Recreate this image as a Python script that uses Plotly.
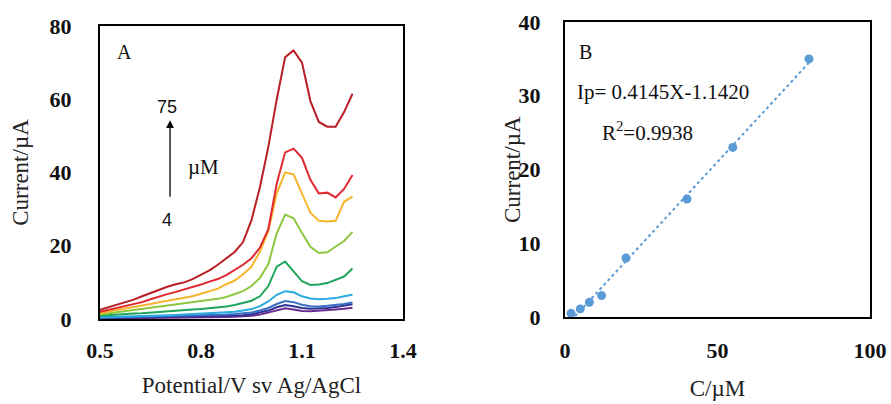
import numpy as np
import plotly.graph_objects as go

# ---------------- Panel A data (DPV curves) ----------------
potential = [0.500, 0.525, 0.550, 0.575, 0.600, 0.625, 0.650, 0.675, 0.700, 0.725,
             0.750, 0.775, 0.800, 0.825, 0.850, 0.875, 0.900, 0.925, 0.950, 0.975,
             1.000, 1.025, 1.050, 1.075, 1.100, 1.125, 1.150, 1.175, 1.200, 1.225, 1.250]

curve_purple = [0.1, 0.12, 0.15, 0.18, 0.2, 0.22, 0.25, 0.28, 0.3, 0.33, 0.36, 0.4, 0.43, 0.47, 0.5, 0.55,
                0.62, 0.7, 0.9, 1.2, 1.7, 2.4, 2.9, 2.6, 2.2, 2.1, 2.2, 2.4, 2.6, 2.8, 3.1]
curve_navy = [0.2, 0.25, 0.3, 0.3, 0.35, 0.4, 0.45, 0.5, 0.55, 0.6, 0.6, 0.65, 0.7, 0.75, 0.8, 0.85,
              0.95, 1.05, 1.3, 1.7, 2.3, 3.2, 3.8, 3.5, 3.0, 2.8, 2.8, 3.0, 3.3, 3.6, 4.0]
curve_blue = [0.35, 0.4, 0.45, 0.5, 0.55, 0.6, 0.65, 0.7, 0.75, 0.8, 0.85, 0.9, 1.0, 1.05, 1.1, 1.2,
              1.35, 1.5, 1.8, 2.3, 3.0, 4.1, 4.9, 4.6, 3.9, 3.5, 3.4, 3.6, 3.8, 4.1, 4.5]
curve_lightblue = [0.5, 0.55, 0.6, 0.7, 0.75, 0.8, 0.9, 1.0, 1.05, 1.1, 1.2, 1.3, 1.4, 1.5, 1.6, 1.8,
                   2.0, 2.3, 2.7, 3.5, 4.8, 6.6, 7.6, 7.3, 6.2, 5.6, 5.4, 5.5, 5.7, 6.2, 6.6]
curve_green = [0.9, 1.0, 1.2, 1.3, 1.5, 1.6, 1.8, 1.9, 2.0, 2.2, 2.4, 2.6, 2.7, 2.9, 3.2, 3.4,
               3.8, 4.3, 5.0, 6.2, 9.0, 14.3, 15.7, 13.0, 10.3, 9.3, 9.4, 9.8, 10.6, 11.6, 13.8]
curve_yellowgreen = [1.2, 1.5, 1.8, 2.1, 2.4, 2.7, 3.0, 3.3, 3.6, 3.9, 4.1, 4.4, 4.7, 5.1, 5.5, 6.0,
                     6.7, 7.6, 9.0, 11.2, 15.0, 23.4, 28.5, 27.5, 23.5, 19.7, 18.0, 18.2, 19.8, 21.3, 23.8]
curve_gold = [1.6, 2.0, 2.4, 2.8, 3.2, 3.6, 4.1, 4.6, 5.0, 5.4, 5.8, 6.2, 6.9, 7.6, 8.3, 9.5,
              10.5, 12.2, 14.3, 18.4, 24.0, 34.3, 40.0, 39.5, 34.0, 29.0, 26.8, 26.6, 26.8, 32.0, 33.4]
curve_red = [2.0, 2.5, 3.0, 3.5, 4.0, 4.6, 5.4, 6.2, 6.8, 7.4, 8.0, 8.6, 9.4, 10.2, 10.9, 12.0,
             13.3, 14.8, 16.6, 19.5, 24.5, 37.0, 45.5, 46.5, 44.0, 38.0, 34.3, 34.5, 33.2, 35.5, 39.3]
curve_darkred = [2.5, 3.2, 3.9, 4.5, 5.3, 6.2, 7.1, 8.0, 8.8, 9.5, 10.0, 10.9, 12.0, 13.3, 14.8, 16.6,
                 18.3, 21.0, 27.0, 36.0, 47.0, 60.0, 71.5, 73.3, 70.0, 59.5, 53.8, 52.5, 52.5, 56.5, 61.5]

curves = [curve_purple, curve_navy, curve_blue, curve_lightblue, curve_green,
          curve_yellowgreen, curve_gold, curve_red, curve_darkred]
curve_colors = ["#6A2C91", "#2E3192", "#3B6FC4", "#29ABE2", "#1FA55B",
                "#8CC63F", "#F7B52C", "#E0282E", "#B81E24"]

# ---------------- Panel B data (calibration) ----------------
conc = [2, 5, 8, 12, 20, 40, 55, 80]
peak_current = [0.5, 1.1, 2.0, 2.9, 8.0, 16.0, 23.0, 35.0]

A_xticks = [0.5, 0.8, 1.1, 1.4]
A_yticks = [0, 20, 40, 60, 80]
B_xticks = [0, 50, 100]
B_yticks = [0, 10, 20, 30, 40]

SERIF = "Liberation Serif"
SANS = "Liberation Sans"
W, H = 891, 404

fig = go.Figure()

for ys, col in zip(curves, curve_colors):
    fig.add_trace(go.Scatter(x=potential, y=ys, mode="lines",
                             line=dict(color=col, width=2), xaxis="x", yaxis="y",
                             showlegend=False, hoverinfo="skip"))

slope, intercept = np.polyfit(conc, peak_current, 1)
fit_x = [min(conc), max(conc)]
fit_y = [slope * v + intercept for v in fit_x]
fig.add_trace(go.Scatter(x=fit_x, y=fit_y, mode="lines",
                         line=dict(color="#5B9BD5", width=2, dash="dot"),
                         xaxis="x2", yaxis="y2", showlegend=False))
fig.add_trace(go.Scatter(x=conc, y=peak_current, mode="markers",
                         marker=dict(color="#5B9BD5", size=9),
                         xaxis="x2", yaxis="y2", showlegend=False))

tickfont = dict(family=SERIF, size=22, color="#111111", weight="bold")
titlefont = dict(family=SERIF, size=23, color="#222222")

def ax(domain, rng, tickvals, anchor, title, standoff_lab, standoff_title):
    d = dict(domain=domain, range=rng, tickvals=tickvals, anchor=anchor,
             showline=True, linecolor="black", linewidth=2, mirror=True,
             showgrid=False, zeroline=False, ticks="", automargin=False,
             tickfont=tickfont, ticklabelstandoff=standoff_lab)
    if title:
        d["title"] = dict(text=title, font=titlefont, standoff=standoff_title)
    return d

fig.update_layout(
    width=W, height=H, autosize=False,
    margin=dict(l=0, r=0, t=0, b=0),
    template="none",
    paper_bgcolor="white", plot_bgcolor="white",
    xaxis=ax([100 / W, 403 / W], [0.5, 1.4], A_xticks, "y", "Potential/V sv Ag/AgCl", 11, 14),
    yaxis=ax([1 - 319 / H, 1 - 26 / H], [0, 80], A_yticks, "x", "Current/µA", 22, 15),
    xaxis2=ax([565 / W, 870 / W], [0, 100], B_xticks, "y2", "C/µM", 13, 17),
    yaxis2=ax([1 - 317 / H, 1 - 22 / H], [0, 40], B_yticks, "x2", None, 18, 0),
)
fig.layout.xaxis.ticktext = ["0.5", "0.8", "1.1", "1.4"]

annots = [
    dict(x=513 / W, y=1 - 170 / H, xref="paper", yref="paper", text="Current/µA",
         textangle=-90, showarrow=False, font=titlefont),
    dict(x=0.574, y=72.9, xref="x", yref="y", text="A", showarrow=False,
         font=dict(family=SERIF, size=20, color="#111")),
    dict(x=0.70, y=57.9, xref="x", yref="y", text="75", showarrow=False,
         font=dict(family=SANS, size=18, color="#111")),
    dict(x=0.70, y=27.0, xref="x", yref="y", text="4", showarrow=False,
         font=dict(family=SANS, size=18, color="#111")),
    dict(x=0.806, y=41.5, xref="x", yref="y", text="µM", showarrow=False,
         font=dict(family=SERIF, size=21, color="#111")),
    dict(x=0.708, y=54.3, ax=0.708, ay=33.0, xref="x", yref="y", axref="x", ayref="y",
         text="", showarrow=True, arrowhead=2, arrowsize=1.2, arrowwidth=1.3, arrowcolor="black"),
    dict(x=6.6, y=35.9, xref="x2", yref="y2", text="B", showarrow=False,
         font=dict(family=SERIF, size=20, color="#111")),
    dict(x=32.1, y=30.5, xref="x2", yref="y2", text="Ip= 0.4145X-1.1420", showarrow=False,
         font=dict(family=SERIF, size=21, color="#111")),
    dict(x=26.9, y=25.1, xref="x2", yref="y2", text="R<sup>2</sup>=0.9938", showarrow=False,
         font=dict(family=SERIF, size=21, color="#111")),
]
fig.update_layout(annotations=annots)

fig.write_html("out.html", config={"displayModeBar": False},
               post_script="document.body.style.margin='0px';document.body.style.overflow='hidden';")
